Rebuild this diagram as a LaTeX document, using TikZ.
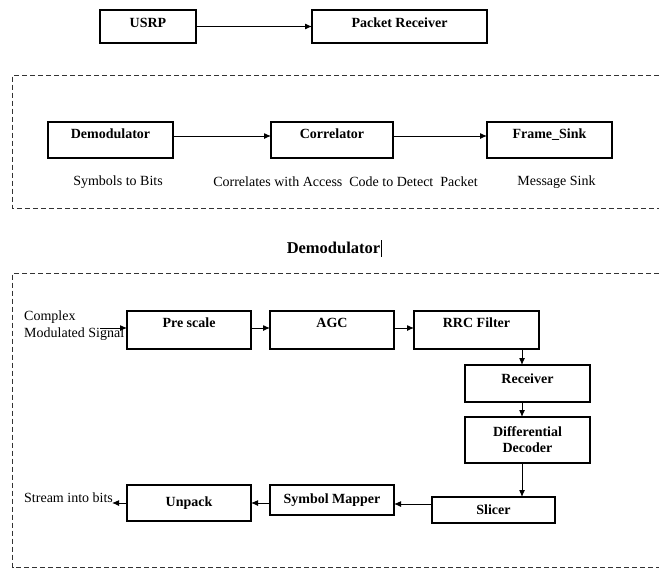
\documentclass[tikz,border=0pt]{standalone}
\usepackage{fontspec}
\setmainfont{Liberation Serif}
\usetikzlibrary{arrows.meta}

\begin{document}
\begin{tikzpicture}[x=1pt,y=-1pt]
  \tikzset{BlockStyle/.style = {
    shape         = rectangle,
    draw          = black,
    line width    = 1.2pt,
    text          = black,
    font          = \fontsize{14}{16}\selectfont\bfseries,
    align         = center,
    inner sep     = 2pt,
    outer sep     = 0pt,
    minimum width = 124pt,
    minimum height= 36pt
    }
  }
  \tikzset{RaisedStyle/.style = {
    text height   = 10pt,
    text depth    = #1
    }
  }
  \tikzset{EdgeStyle/.style = {
    draw          = black,
    line width    = 1pt,
    -{Latex[length=7pt,width=6pt]}
    }
  }
  \tikzset{CaptionStyle/.style = {
    font          = \fontsize{14}{17}\selectfont,
    inner sep     = 0pt,
    align         = left
    }
  }
  \tikzset{FrameStyle/.style = {
    draw          = black!80,
    line width    = 1pt,
    dash pattern  = on 5pt off 3pt
    }
  }
  \useasboundingbox (0,0) rectangle (659,570);

  % packet receiver chain
  \node[BlockStyle,RaisedStyle=8pt,minimum width=96pt,minimum height=33pt](USRP) at (148, 26.5) {USRP};
  \node[BlockStyle,RaisedStyle=8pt,minimum width=175pt,minimum height=33pt](PR) at (399.5, 26.5) {Packet Receiver};
  \draw[EdgeStyle](USRP) to (PR);

  \draw[FrameStyle] (659,75) -- (12.5,75) -- (12.5,208) -- (659,208);
  \node[BlockStyle,RaisedStyle=13pt,minimum width=125pt](D1) at (110.5, 140) {Demodulator};
  \node[BlockStyle,RaisedStyle=13pt,minimum width=122pt](D2) at (332, 140) {Correlator};
  \node[BlockStyle,RaisedStyle=13pt,minimum width=125pt](D3) at (549.5, 140) {Frame\_Sink};
  \draw[EdgeStyle]([yshift=4pt]D1.east) to ([yshift=4pt]D2.west);
  \draw[EdgeStyle]([yshift=4pt]D2.east) to ([yshift=4pt]D3.west);
  \node[CaptionStyle](C1) at (118, 182) {Symbols to Bits};
  \node[CaptionStyle](C2) at (345.5, 182) {Correlates with Access\ \ Code to Detect\ \ Packet};
  \node[CaptionStyle](C3) at (556.5, 182) {Message Sink};

  % demodulator
  \node[font=\fontsize{16.5}{18}\selectfont\bfseries,inner sep=0pt](Title) at (333.5, 248) {Demodulator};
  \draw[line width=1.6pt] ([xshift=1pt]Title.east |- 0,240) -- ([xshift=1pt]Title.east |- 0,257);

  \draw[FrameStyle] (659,273) -- (12.5,273) -- (12.5,567) -- (659,567);
  \node[BlockStyle,RaisedStyle=15pt,minimum height=38pt](E1) at (189, 330) {Pre scale};
  \node[BlockStyle,RaisedStyle=15pt,minimum height=38pt](E2) at (332, 330) {AGC};
  \node[BlockStyle,RaisedStyle=15pt,minimum height=38pt,minimum width=125pt](E3) at (476.5, 330) {RRC Filter};
  \node[BlockStyle,RaisedStyle=11pt,minimum height=37pt,minimum width=125pt](E4) at (527.5, 383.5) {Receiver};
  \node[BlockStyle,minimum height=46pt,minimum width=125pt](E5) at (527.5, 440) {Differential\\Decoder};
  \node[BlockStyle,minimum height=26pt,minimum width=123pt](E6) at (493.5, 510) {Slicer};
  \node[BlockStyle,minimum height=30pt](E7) at (332, 500) {Symbol Mapper};
  \node[BlockStyle,minimum height=36pt](E8) at (189, 503) {Unpack};

  \node[CaptionStyle,anchor=west](In) at (24, 326) {Complex\\Modulated Signal};
  \node[CaptionStyle,anchor=west](Out) at (24, 498) {Stream into bits};
  \coordinate (InStart) at (100, 328);
  \coordinate (OutEnd) at (112, 503);
  \coordinate (Col) at (522, 0);

  \draw[EdgeStyle](InStart) to (E1.west |- InStart);
  \draw[EdgeStyle]([yshift=2pt]E1.east) to ([yshift=2pt]E2.west);
  \draw[EdgeStyle]([yshift=2pt]E2.east) to ([yshift=2pt]E3.west);
  \draw[EdgeStyle](E3.south -| Col) to (E4.north -| Col);
  \draw[EdgeStyle](E4.south -| Col) to (E5.north -| Col);
  \draw[EdgeStyle](E5.south -| Col) to (E6.north -| Col);
  \draw[EdgeStyle]([yshift=6pt]E6.west) to (E7.east |- 0,504);
  \draw[EdgeStyle](E7.west |- 0,503) to (E8.east);
  \draw[EdgeStyle](E8.west) to (OutEnd);

\end{tikzpicture}
\end{document}
